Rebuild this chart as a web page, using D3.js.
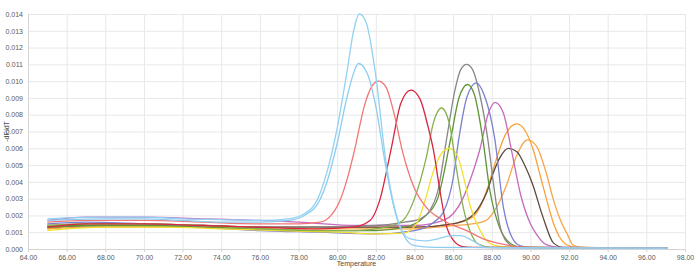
<!DOCTYPE html>
<html>
<head>
<meta charset="utf-8">
<script src="https://cdn.jsdelivr.net/npm/d3@7"></script>
<style>
  body { margin: 0; background: #fff; }
  svg text { font-family: "Liberation Sans", Arial, sans-serif; }
  .grid line { stroke: #e8e8e8; stroke-width: 1; }
  .grid path { display: none; }
  .axis path, .axis line { stroke: #d4d4d4; }
  .axis text { fill: #5a5a5a; font-size: 7px; }
  .melt { fill: none; stroke-width: 1.3; }
</style>
</head>
<body>
<svg id="chart" width="700" height="269"></svg>
<script>
// melt curves, [temperature, -dF/dT]
var xTicks = [64,66,68,70,72,74,76,78,80,82,84,86,88,90,92,94,96,98];
var yTicks = [0,0.001,0.002,0.003,0.004,0.005,0.006,0.007,0.008,0.009,0.010,0.011,0.012,0.013,0.014];

var lightBlue1 = [[65,0.0018],[66,0.00185],[68,0.0019],[70,0.0019],[72,0.0018],[74,0.00175],[76,0.0017],[77.5,0.0018],[78.3,0.0021],[79,0.0030],[79.5,0.0047],[80,0.0072],[80.5,0.0105],[80.85,0.0130],[81.15,0.0140],[81.5,0.0135],[82,0.0103],[82.5,0.0054],[83,0.0023],[83.4,0.0010],[83.8,0.0006],[84.5,0.00048],[85.2,0.0006],[85.9,0.0008],[86.4,0.0008],[87,0.0005],[87.7,0.0001],[90,0.00005],[97.1,0.00005]];
var lightBlue2 = [[65,0.0017],[66,0.00175],[68,0.0018],[70,0.0018],[72,0.0017],[74,0.0016],[76,0.0016],[77.5,0.0017],[78.3,0.0020],[79,0.0027],[79.5,0.0041],[80,0.0063],[80.5,0.0090],[80.8,0.0103],[81.1,0.01105],[81.5,0.0106],[82,0.0085],[82.5,0.0050],[83,0.0022],[83.5,0.0007],[84,0.0002],[85,0.0001],[97.1,0.00005]];
var salmon = [[65,0.0016],[67,0.0017],[70,0.0017],[73,0.0016],[76,0.0015],[78,0.0015],[79.1,0.0016],[79.6,0.0019],[80.15,0.0029],[80.5,0.0041],[80.92,0.0060],[81.4,0.0085],[81.8,0.0097],[82.13,0.0100],[82.5,0.0097],[83,0.0078],[83.34,0.0060],[83.6,0.0049],[84,0.0036],[84.6,0.0025],[85.5,0.0017],[86.7,0.0011],[87.7,0.00054],[88.5,0.0003],[89.3,0.00014],[90,0.0001],[97.1,0.00005]];
var crimson = [[65,0.0013],[67,0.0015],[70,0.0015],[73,0.0014],[76,0.0013],[79,0.0012],[80.8,0.0013],[81.7,0.0017],[82.2,0.0029],[82.8,0.0060],[83.3,0.0087],[83.82,0.00946],[84.3,0.0089],[84.7,0.0073],[84.98,0.0059],[85.3,0.0036],[85.67,0.0013],[86,0.00054],[86.5,0.00014],[87,0.0001],[97.1,0.00005]];
var olive = [[65,0.0014],[67,0.0015],[70,0.0015],[73,0.0014],[76,0.0012],[79,0.0011],[81,0.0011],[82.5,0.0013],[83.4,0.0017],[84,0.0030],[84.6,0.0054],[85,0.0076],[85.4,0.0084],[85.8,0.0075],[86.17,0.0048],[86.5,0.0026],[86.9,0.0010],[87.3,0.0003],[88,0.0001],[97.1,0.00005]];
var yellow = [[65,0.0011],[66,0.0012],[68,0.0013],[71,0.0013],[74,0.0012],[77,0.0011],[80,0.0010],[82,0.0009],[83.4,0.00094],[84.1,0.0015],[84.6,0.0031],[85,0.0047],[85.4,0.0057],[85.8,0.0060],[86.2,0.0056],[86.6,0.0040],[86.9,0.0025],[87.4,0.0011],[87.7,0.00054],[88.2,0.0002],[89,0.0001],[97.1,0.00005]];
var gray = [[65,0.0014],[67,0.0015],[70,0.0015],[73,0.0014],[76,0.0013],[79,0.0013],[82,0.0014],[83.5,0.0016],[84.3,0.0018],[84.8,0.0023],[85.2,0.0034],[85.67,0.0066],[86.1,0.0095],[86.4,0.0107],[86.7,0.0110],[87.0,0.0107],[87.4,0.0091],[87.8,0.0065],[88.1,0.0038],[88.4,0.0015],[88.8,0.0004],[89.3,0.0001],[97.1,0.00005]];
var green = [[65,0.0013],[67,0.0014],[70,0.0014],[73,0.0013],[76,0.0012],[79,0.0011],[82,0.0011],[83.5,0.0013],[84.5,0.0019],[85.2,0.0030],[85.88,0.0066],[86.3,0.0090],[86.75,0.0098],[87.1,0.0092],[87.53,0.0066],[87.9,0.0035],[88.4,0.0013],[89.1,0.00024],[89.6,0.0001],[97.1,0.00005]];
var bluePurple = [[65,0.0015],[67,0.0016],[70,0.0015],[73,0.0013],[76,0.0011],[79,0.0010],[82,0.0009],[84,0.0011],[85,0.0016],[85.5,0.0022],[86,0.0042],[86.3,0.0066],[86.7,0.0090],[87.2,0.0099],[87.6,0.0092],[88.15,0.0066],[88.6,0.0025],[89,0.0008],[89.45,0.0002],[90,0.0001],[97.1,0.00005]];
var magenta = [[65,0.0017],[67,0.0019],[70,0.0019],[73,0.0018],[76,0.0017],[78,0.0016],[81,0.0014],[84,0.0014],[85.5,0.0017],[86.5,0.0030],[87,0.0045],[87.4,0.0060],[87.8,0.0080],[88.17,0.00874],[88.6,0.0081],[89,0.0060],[89.5,0.0032],[90,0.0015],[90.3,0.0009],[90.85,0.00024],[91.5,0.0001],[97.1,0.00005]];
var brown = [[65,0.0013],[67,0.0014],[70,0.0014],[73,0.0014],[76,0.0013],[79,0.0013],[82,0.0013],[84,0.0013],[86,0.0015],[86.9,0.0019],[87.4,0.0026],[87.75,0.0034],[88.1,0.0046],[88.4,0.0054],[88.86,0.0060],[89.3,0.0058],[89.7,0.0050],[90.1,0.0039],[90.65,0.0019],[91.2,0.00035],[91.7,0.0001],[97.1,0.00005]];
var orange1 = [[65,0.0012],[67,0.0014],[70,0.0014],[73,0.0014],[76,0.0013],[79,0.0013],[82,0.0013],[84,0.0013],[86,0.0015],[87,0.0019],[87.4,0.0025],[87.8,0.0037],[88.25,0.0054],[88.7,0.0068],[89.3,0.00745],[89.75,0.0070],[90.15,0.0059],[90.5,0.0044],[90.85,0.0029],[91.2,0.0015],[91.5,0.00073],[91.9,0.00024],[92.4,0.0001],[97.1,0.00005]];
var orange2 = [[65,0.0012],[67,0.0013],[70,0.0013],[73,0.0013],[76,0.0012],[79,0.0012],[82,0.0012],[84,0.0012],[86,0.0014],[87,0.0015],[87.7,0.0017],[88.3,0.0026],[88.76,0.0038],[89.3,0.0056],[89.85,0.0065],[90.33,0.0061],[90.8,0.0046],[91.2,0.0029],[91.6,0.0016],[91.9,0.0009],[92.2,0.00024],[92.7,0.0001],[97.1,0.00005]];

var series = [
  {data: orange2, color: "#f6a64c"},
  {data: orange1, color: "#f7a13a"},
  {data: brown, color: "#5c4a40"},
  {data: magenta, color: "#c66abb"},
  {data: bluePurple, color: "#7b7fcf"},
  {data: green, color: "#5f9434"},
  {data: gray, color: "#888888"},
  {data: yellow, color: "#f2df2e"},
  {data: olive, color: "#86b04c"},
  {data: crimson, color: "#d8263e"},
  {data: salmon, color: "#f17676"},
  {data: lightBlue2, color: "#8dcdf0"},
  {data: lightBlue1, color: "#92d1f2"}
];

var svg = d3.select("#chart");
var margin = {left: 28, right: 15, top: 14, bottom: 20};
var W = 700 - margin.left - margin.right, H = 269 - margin.top - margin.bottom;
var g = svg.append("g").attr("transform", "translate(" + margin.left + "," + margin.top + ")");

var x = d3.scaleLinear().domain([64, 98]).range([0, W]);
var y = d3.scaleLinear().domain([0, 0.014]).range([H, 0]);

g.append("g").attr("class", "grid")
  .attr("transform", "translate(0," + H + ")")
  .call(d3.axisBottom(x).tickValues(xTicks).tickSize(-H).tickFormat(""));
g.append("g").attr("class", "grid")
  .call(d3.axisLeft(y).tickValues(yTicks).tickSize(-W).tickFormat(""));

var xAxis = g.append("g").attr("class", "axis")
  .attr("transform", "translate(0," + H + ")")
  .call(d3.axisBottom(x).tickValues(xTicks).tickSize(3).tickPadding(3).tickFormat(d3.format(".2f")));
var yAxis = g.append("g").attr("class", "axis")
  .call(d3.axisLeft(y).tickValues(yTicks).tickSize(0).tickPadding(5).tickFormat(d3.format(".3f")));
yAxis.select(".domain").attr("d", "M0.5," + H + "V0");

var line = d3.line()
  .x(function(d) { return x(d[0]); })
  .y(function(d) { return y(d[1]); })
  .curve(d3.curveMonotoneX);

g.selectAll(".melt").data(series).enter().append("path")
  .attr("class", "melt")
  .attr("stroke", function(d) { return d.color; })
  .attr("d", function(d) { return line(d.data); });

svg.append("text").attr("x", margin.left + W / 2).attr("y", 266)
  .attr("text-anchor", "middle").attr("font-size", 7).attr("fill", "#4a4a4a").text("Temperature");
svg.append("text").attr("transform", "translate(9," + (margin.top + H / 2) + ") rotate(-90)")
  .attr("text-anchor", "middle").attr("font-size", 7).attr("fill", "#4a4a4a").text("-dF/dT");
</script>
</body>
</html>
